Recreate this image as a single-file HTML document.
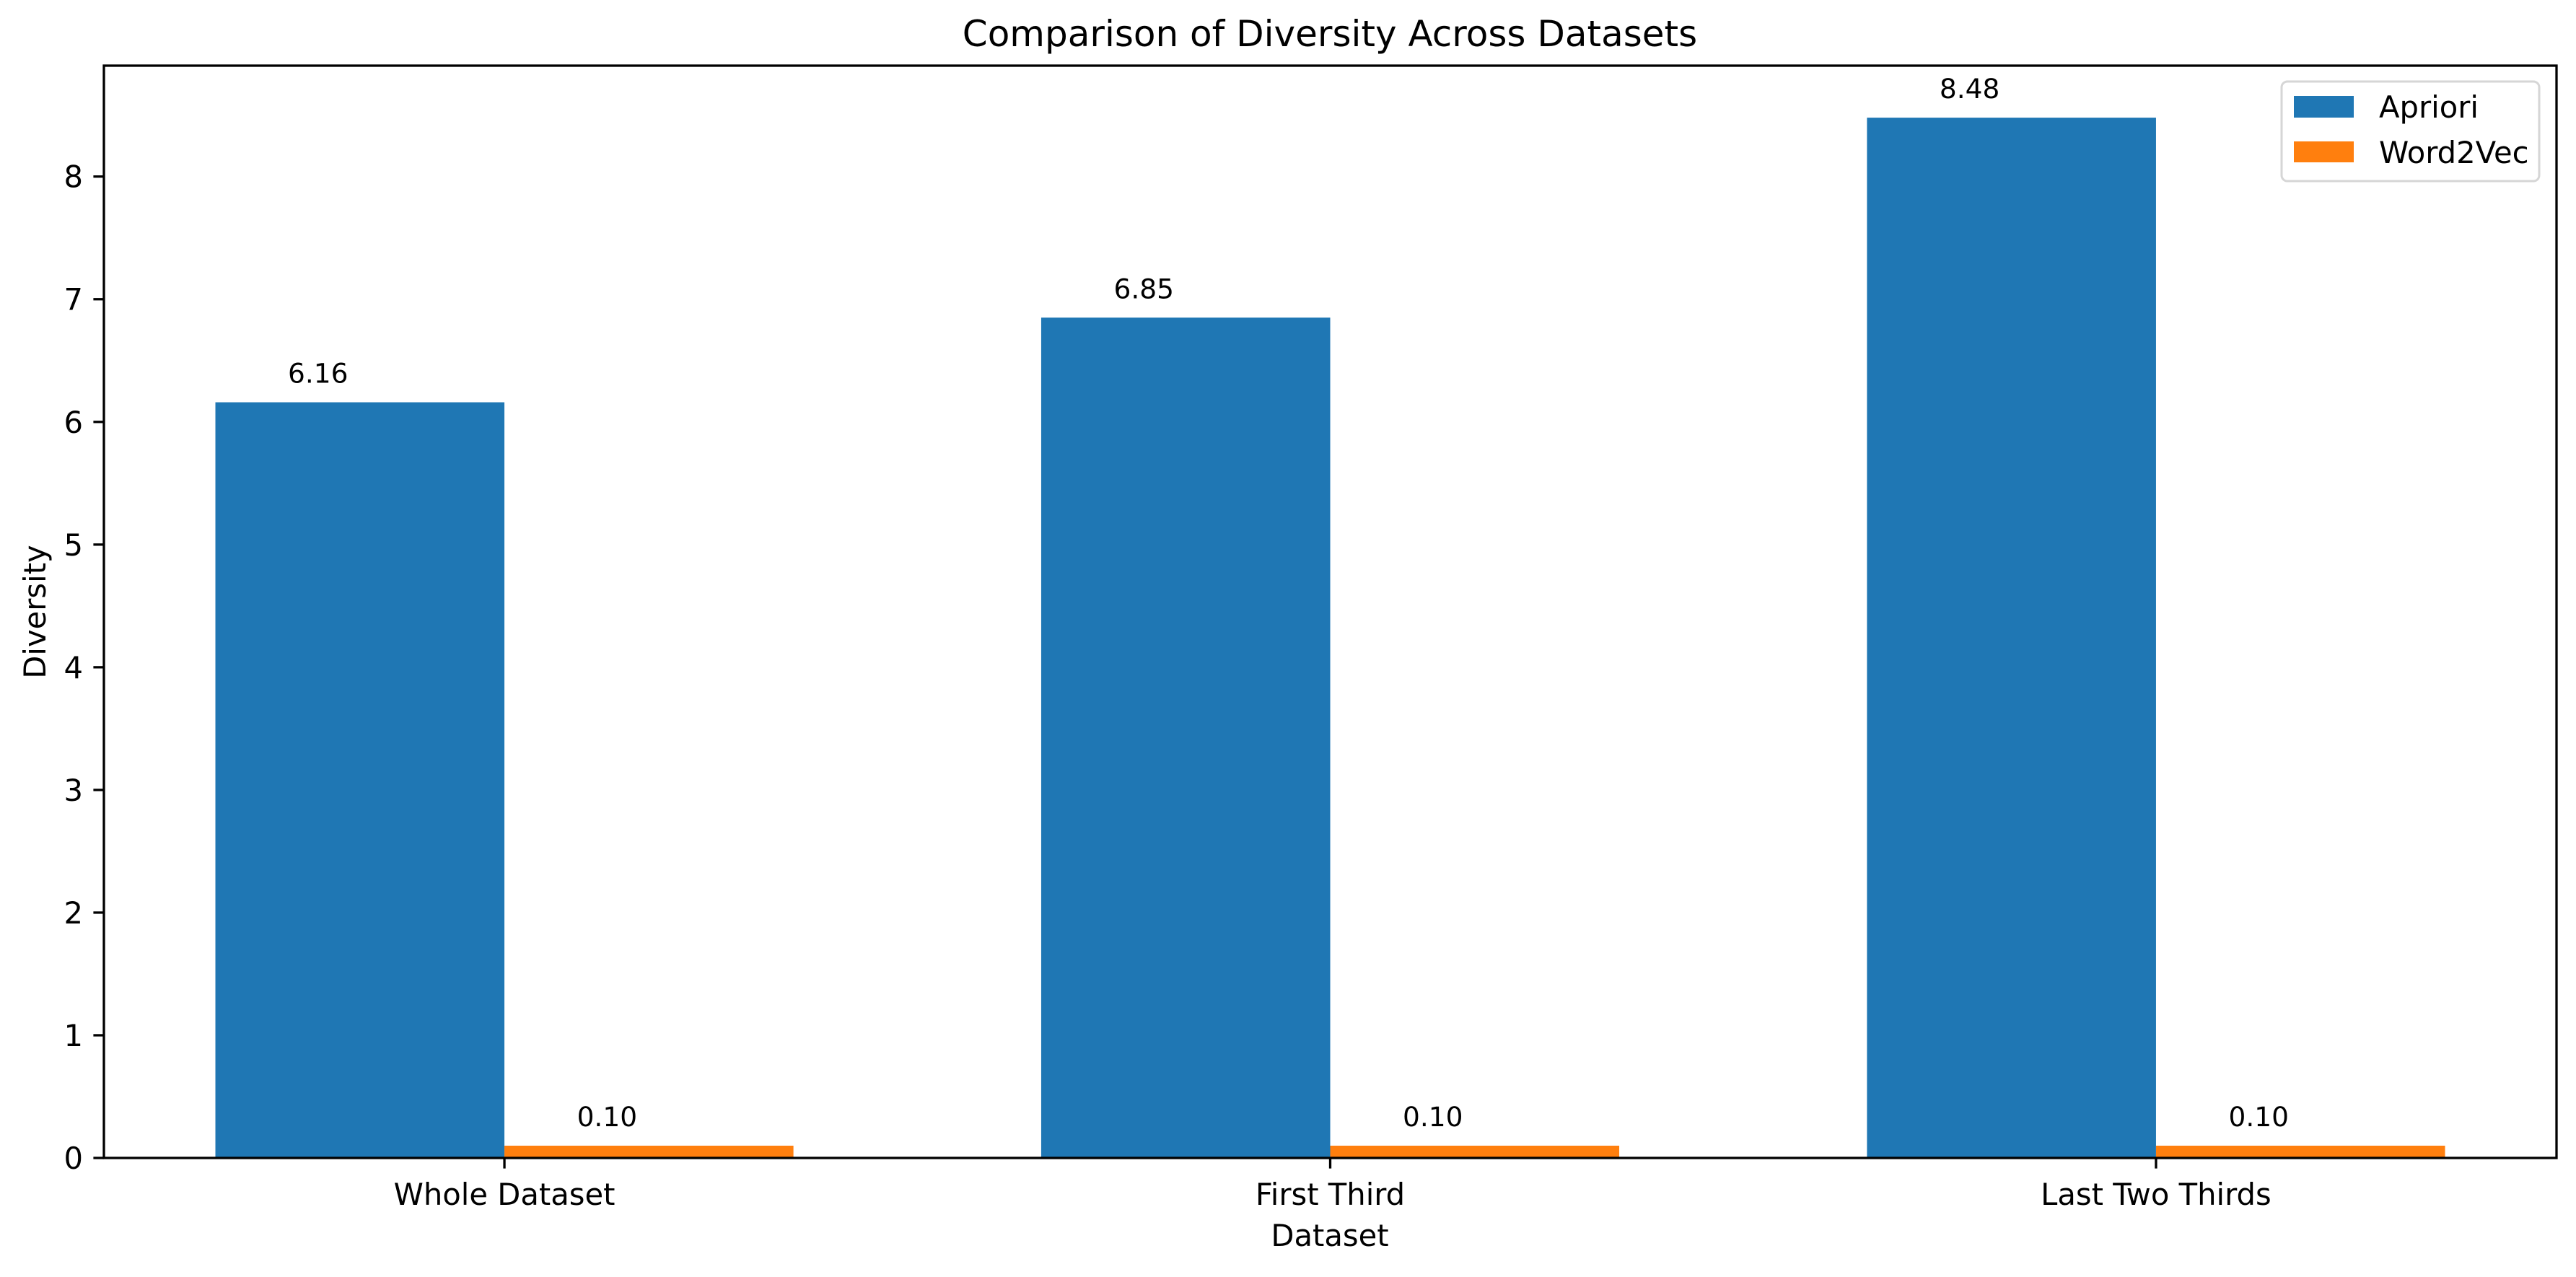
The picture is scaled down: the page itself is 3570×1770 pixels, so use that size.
<!DOCTYPE html>
<html><head><meta charset="utf-8"><style>
html,body{margin:0;padding:0;background:#fff;}
svg text{font-family:"DejaVu Sans","Liberation Sans",sans-serif;fill:#000;}
</style></head><body>
<svg id="chart" width="3570" height="1765" viewBox="0 0 3570 1765" xmlns="http://www.w3.org/2000/svg">
<rect width="3570" height="1765" fill="#fff"/>
<text x="1843" y="64" font-size="50" text-anchor="middle">Comparison of Diversity Across Datasets</text>
<g id="bars"></g>
<g id="axes"></g>
<text x="1843" y="1727" font-size="41.7" text-anchor="middle">Dataset</text>
<text x="0" y="0" font-size="41.7" text-anchor="middle" transform="translate(63,848) rotate(-90)">Diversity</text>
<g>
<rect x="3162" y="113" width="357" height="138" rx="8" fill="#fff" stroke="#d6d6d6" stroke-width="3"/>
<rect x="3179" y="133" width="83" height="30" fill="#1f77b4"/>
<text x="3297" y="163" font-size="41.7">Apriori</text>
<rect x="3179" y="196" width="83" height="29" fill="#ff7f0e"/>
<text x="3297" y="226" font-size="41.7">Word2Vec</text>
</g>
</svg>
<script>
const categories = ["Whole Dataset", "First Third", "Last Two Thirds"];
const aprioriValues = [6.16, 6.85, 8.48];
const word2vecValues = [0.10, 0.10, 0.10];
const yTicks = [0, 1, 2, 3, 4, 5, 6, 7, 8];

const NS = "http://www.w3.org/2000/svg";
const L = 144, R = 3543, T = 91, B = 1605;
const barW = 0.35;
const xMin = -barW - 0.135, xMax = (categories.length - 1) + barW + 0.135;
const yMax = Math.max(...aprioriValues, ...word2vecValues) * 1.05;
const xs = v => L + (v - xMin) / (xMax - xMin) * (R - L);
const ys = v => B - v / yMax * (B - T);

function mk(tag, attrs, parent) {
  const e = document.createElementNS(NS, tag);
  for (const k in attrs) e.setAttribute(k, attrs[k]);
  parent.appendChild(e);
  return e;
}
const bars = document.getElementById("bars");
const axes = document.getElementById("axes");

function drawSeries(vals, offset, color, name) {
  vals.forEach((v, i) => {
    const x0 = xs(i + offset), x1 = xs(i + offset + barW);
    const r = mk("rect", {x: x0, y: ys(v), width: x1 - x0, height: B - ys(v), fill: color}, bars);
    
    
    const t = mk("text", {x: (x0 + x1) / 2 - 58, y: ys(v) - 27, "font-size": 37.5, "text-anchor": "middle"}, bars);
    t.textContent = v.toFixed(2);
    
    
  });
}
drawSeries(aprioriValues, -barW, "#1f77b4", "apriori");
drawSeries(word2vecValues, 0, "#ff7f0e", "word2vec");

const frame = mk("rect", {x: L, y: T, width: R - L, height: B - T, fill: "none", stroke: "#000", "stroke-width": 3.3}, axes);



yTicks.forEach(v => {
  const y = ys(v);
  const ln = mk("line", {x1: L - 14.6, x2: L, y1: y, y2: y, stroke: "#000", "stroke-width": 3.3}, axes);
  
  
  const t = mk("text", {x: L - 29, y: y + 15, "font-size": 41.7, "text-anchor": "end"}, axes);
  t.textContent = v;
  
  
});
categories.forEach((c, i) => {
  const x = xs(i);
  const ln = mk("line", {x1: x, x2: x, y1: B, y2: B + 14.6, stroke: "#000", "stroke-width": 3.3}, axes);
  
  
  const t = mk("text", {x: x, y: 1670, "font-size": 41.7, "text-anchor": "middle"}, axes);
  t.textContent = c;
  
  
});
</script>
</body></html>
